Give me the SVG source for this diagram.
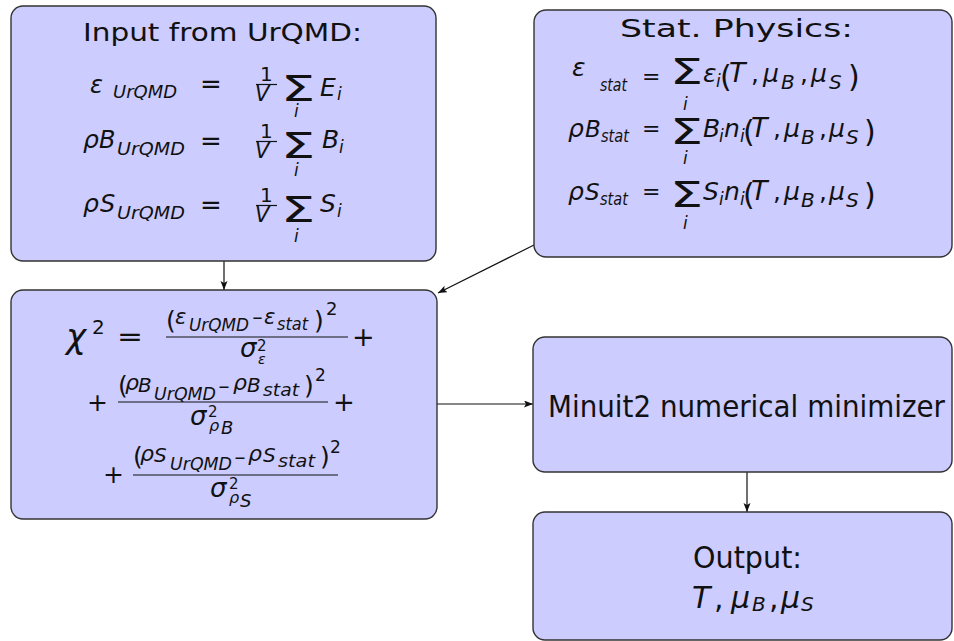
<svg xmlns="http://www.w3.org/2000/svg" width="954" height="641" viewBox="0 0 954 641" font-size="25">
<style>
.box{fill:#ccccff;stroke:#333;stroke-width:1.4}
text{font-family:"DejaVu Sans","Liberation Sans",sans-serif;fill:#111}
.i{font-style:italic}
.s{font-size:17px}
.bar{stroke:#111;stroke-width:1.2}
.conn{stroke:#111;stroke-width:1.2;fill:none;marker-end:url(#arr)}
</style>
<defs>
<marker id="arr" markerUnits="userSpaceOnUse" markerWidth="10" markerHeight="8" refX="9" refY="3.5" orient="auto">
<path d="M0,0 L9,3.5 L0,7 L2,3.5 z" fill="#111"/>
</marker>
</defs>
<rect width="954" height="641" fill="#fff"/>

<g id="connectors">
<line class="conn" x1="224" y1="261" x2="224" y2="290"/>
<line class="conn" x1="534" y1="245" x2="438" y2="293"/>
<line class="conn" x1="437" y1="404" x2="533" y2="404"/>
<line class="conn" x1="747" y1="472" x2="747" y2="512"/>
</g>

<g id="input">
<rect class="box" x="11" y="6" width="425" height="255" rx="12"/>
<text x="83" y="41" textLength="279" lengthAdjust="spacingAndGlyphs">Input from UrQMD:</text>
<!-- line 1 -->
<text class="i" x="90" y="93" font-size="24">ε</text>
<text class="i s" x="113" y="98" textLength="64" lengthAdjust="spacingAndGlyphs">UrQMD</text>
<text x="200" y="93" font-size="26">=</text>
<text x="260" y="81" font-size="20">1</text>
<line class="bar" x1="256" y1="84.5" x2="277" y2="84.5"/>
<text class="i" x="255" y="101" font-size="21">V</text>
<text font-size="36" transform="translate(281,101) scale(1.5,1)">Σ</text>
<text class="i" x="294" y="117" font-size="17">i</text>
<text class="i" x="320" y="96">E</text>
<text class="i s" x="337" y="100">i</text>
<!-- line 2 -->
<text class="i" x="83" y="148">ρ</text>
<text class="i" x="99" y="148" font-size="24">B</text>
<text class="i s" x="117" y="155" textLength="68" lengthAdjust="spacingAndGlyphs">UrQMD</text>
<text x="200" y="150" font-size="26">=</text>
<text x="260" y="138" font-size="20">1</text>
<line class="bar" x1="256" y1="141.5" x2="277" y2="141.5"/>
<text class="i" x="255" y="158" font-size="21">V</text>
<text font-size="36" transform="translate(281,158) scale(1.5,1)">Σ</text>
<text class="i" x="294" y="176" font-size="17">i</text>
<text class="i" x="322" y="148">B</text>
<text class="i s" x="339" y="153">i</text>
<!-- line 3 -->
<text class="i" x="83" y="212">ρ</text>
<text class="i" x="100" y="212" font-size="24">S</text>
<text class="i s" x="117" y="219" textLength="68" lengthAdjust="spacingAndGlyphs">UrQMD</text>
<text x="200" y="214" font-size="26">=</text>
<text x="260" y="202" font-size="20">1</text>
<line class="bar" x1="256" y1="205.5" x2="277" y2="205.5"/>
<text class="i" x="255" y="222" font-size="21">V</text>
<text font-size="36" transform="translate(281,222) scale(1.5,1)">Σ</text>
<text class="i" x="294" y="242" font-size="17">i</text>
<text class="i" x="320" y="212">S</text>
<text class="i s" x="337" y="217">i</text>
</g>

<g id="stat">
<rect class="box" x="534" y="10" width="418" height="247" rx="12"/>
<text x="620" y="37" textLength="233" lengthAdjust="spacingAndGlyphs">Stat. Physics:</text>
<!-- line 1 -->
<text class="i" x="572" y="76">ε</text>
<text class="i s" x="600" y="91" textLength="27" lengthAdjust="spacingAndGlyphs">stat</text>
<text x="642" y="84" font-size="22">=</text>
<text font-size="36" transform="translate(670,84) scale(1.45,1)">Σ</text>
<text class="i s" x="683" y="110">i</text>
<text class="i" x="703" y="82">ε</text>
<text class="i s" x="716" y="87">i</text>
<text x="720" y="87" font-size="30">(</text>
<text class="i" x="729" y="82" font-size="27">T</text>
<text x="751" y="82">,</text>
<text class="i" x="763" y="82">μ</text>
<text class="i" x="781" y="89" font-size="20">B</text>
<text x="800" y="82">,</text>
<text class="i" x="811" y="82">μ</text>
<text class="i" x="829" y="89" font-size="20">S</text>
<text x="848" y="87" font-size="30">)</text>
<!-- line 2 -->
<text class="i" x="568" y="137">ρ</text>
<text class="i" x="585" y="137" font-size="23">B</text>
<text class="i s" x="601" y="142" textLength="28" lengthAdjust="spacingAndGlyphs">stat</text>
<text x="642" y="136" font-size="22">=</text>
<text font-size="36" transform="translate(670,144) scale(1.45,1)">Σ</text>
<text class="i s" x="683" y="164">i</text>
<text class="i" x="703" y="137">B</text>
<text class="i s" x="719" y="142">i</text>
<text class="i" x="724" y="137">n</text>
<text class="i s" x="740" y="142">i</text>
<text x="743" y="142" font-size="30">(</text>
<text class="i" x="751" y="137" font-size="27">T</text>
<text x="773" y="137">,</text>
<text class="i" x="784" y="137">μ</text>
<text class="i" x="801" y="144" font-size="20">B</text>
<text x="819" y="137">,</text>
<text class="i" x="829" y="137">μ</text>
<text class="i" x="846" y="144" font-size="20">S</text>
<text x="864" y="142" font-size="30">)</text>
<!-- line 3 -->
<text class="i" x="568" y="200">ρ</text>
<text class="i" x="585" y="200" font-size="23">S</text>
<text class="i s" x="600" y="205" textLength="28" lengthAdjust="spacingAndGlyphs">stat</text>
<text x="642" y="199" font-size="22">=</text>
<text font-size="36" transform="translate(670,207) scale(1.45,1)">Σ</text>
<text class="i s" x="683" y="229">i</text>
<text class="i" x="703" y="200">S</text>
<text class="i s" x="719" y="205">i</text>
<text class="i" x="724" y="200">n</text>
<text class="i s" x="740" y="205">i</text>
<text x="743" y="205" font-size="30">(</text>
<text class="i" x="751" y="200" font-size="27">T</text>
<text x="773" y="200">,</text>
<text class="i" x="784" y="200">μ</text>
<text class="i" x="801" y="207" font-size="20">B</text>
<text x="819" y="200">,</text>
<text class="i" x="829" y="200">μ</text>
<text class="i" x="846" y="207" font-size="20">S</text>
<text x="864" y="205" font-size="30">)</text>
</g>

<g id="chi2">
<rect class="box" x="11" y="290" width="426" height="229" rx="12"/>
<!-- line 1 -->
<text class="i" x="66" y="348" font-size="34">χ</text>
<text x="92" y="334" font-size="20">2</text>
<text x="117" y="346" font-size="26" textLength="26" lengthAdjust="spacingAndGlyphs">=</text>
<text x="166" y="329">(</text>
<text class="i" x="175" y="324" font-size="21">ε</text>
<text class="i s" x="189" y="331" textLength="60" lengthAdjust="spacingAndGlyphs">UrQMD</text>
<text x="252" y="324" font-size="18" textLength="11" lengthAdjust="spacingAndGlyphs">−</text>
<text class="i" x="264" y="324" font-size="21">ε</text>
<text class="i s" x="277" y="330" textLength="31" lengthAdjust="spacingAndGlyphs">stat</text>
<text x="314" y="329">)</text>
<text x="326" y="315" font-size="18">2</text>
<line class="bar" x1="166" y1="337" x2="348" y2="337"/>
<text class="i" x="240" y="357" font-size="26">σ</text>
<text x="257" y="351" font-size="15">2</text>
<text class="i" x="258" y="364" font-size="14">ε</text>
<text x="352" y="346" font-size="27">+</text>
<!-- line 2 -->
<text x="87" y="411" font-size="25">+</text>
<text x="118" y="394">(</text>
<text class="i" x="125" y="390" font-size="22">ρ</text>
<text class="i" x="138" y="392" font-size="20">B</text>
<text class="i s" x="154" y="400" textLength="62" lengthAdjust="spacingAndGlyphs">UrQMD</text>
<text x="218" y="393" font-size="18" textLength="12" lengthAdjust="spacingAndGlyphs">−</text>
<text class="i" x="233" y="390" font-size="22">ρ</text>
<text class="i" x="247" y="392" font-size="20">B</text>
<text class="i s" x="263" y="396" textLength="36" lengthAdjust="spacingAndGlyphs">stat</text>
<text x="304" y="394">)</text>
<text x="315" y="381" font-size="17">2</text>
<line class="bar" x1="118" y1="402" x2="328" y2="402"/>
<text class="i" x="190" y="425" font-size="26">σ</text>
<text x="208" y="417" font-size="15">2</text>
<text class="i" x="209" y="431" font-size="16">ρ</text>
<text class="i" x="221" y="434" font-size="18">B</text>
<text x="333" y="411" font-size="26">+</text>
<!-- line 3 -->
<text x="103" y="483" font-size="25">+</text>
<text x="133" y="465">(</text>
<text class="i" x="140" y="461" font-size="22">ρ</text>
<text class="i" x="154" y="462" font-size="20">S</text>
<text class="i s" x="170" y="470" textLength="62" lengthAdjust="spacingAndGlyphs">UrQMD</text>
<text x="234" y="464" font-size="18" textLength="12" lengthAdjust="spacingAndGlyphs">−</text>
<text class="i" x="248" y="461" font-size="22">ρ</text>
<text class="i" x="263" y="462" font-size="20">S</text>
<text class="i s" x="278" y="467" textLength="37" lengthAdjust="spacingAndGlyphs">stat</text>
<text x="320" y="465">)</text>
<text x="330" y="453" font-size="17">2</text>
<line class="bar" x1="133" y1="475" x2="338" y2="475"/>
<text class="i" x="210" y="497" font-size="26">σ</text>
<text x="229" y="489" font-size="15">2</text>
<text class="i" x="229" y="503" font-size="16">ρ</text>
<text class="i" x="240" y="507" font-size="18">S</text>
</g>

<g id="minuit">
<rect class="box" x="533" y="337" width="419" height="135" rx="12"/>
<text x="548" y="417" font-size="30" textLength="397" lengthAdjust="spacingAndGlyphs">Minuit2 numerical minimizer</text>
</g>

<g id="output">
<rect class="box" x="533" y="512" width="419" height="128" rx="12"/>
<text x="693" y="568" font-size="30" textLength="109" lengthAdjust="spacingAndGlyphs">Output:</text>
<text class="i" x="692" y="608" font-size="30">T</text>
<text x="714" y="608" font-size="30">,</text>
<text class="i" x="731" y="608" font-size="30">μ</text>
<text class="i" x="752" y="611" font-size="20">B</text>
<text x="769" y="608" font-size="30">,</text>
<text class="i" x="781" y="608" font-size="30">μ</text>
<text class="i" x="801" y="611" font-size="20">S</text>
</g>
</svg>
